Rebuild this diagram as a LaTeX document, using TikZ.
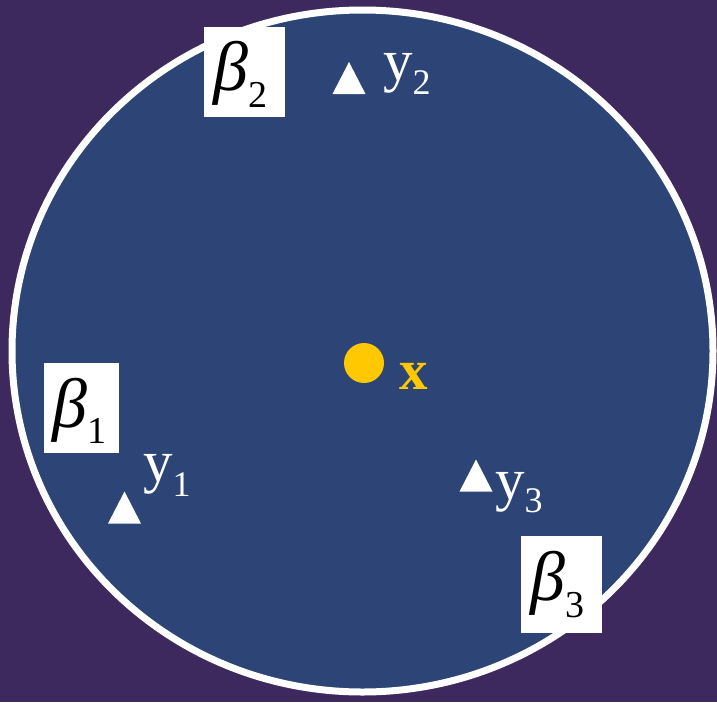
\documentclass[tikz,border=0pt]{standalone}
\usepackage{fontspec}
\setmainfont{Liberation Serif}
\definecolor{bgpurple}{RGB}{62,41,94}
\definecolor{diskblue}{RGB}{44,69,118}
\definecolor{dotyellow}{RGB}{255,200,0}
\tikzset{
  betabox/.style={fill=white, draw=none, inner sep=0pt},
  betatext/.style={anchor=base west, inner sep=0pt, text=black, font=\fontsize{70}{70}\selectfont},
  ylabel/.style={anchor=base west, inner sep=0pt, text=white, font=\fontsize{59}{59}\selectfont},
  tri/.pic={\fill[white] (-16.5,16) -- (16.5,16) -- (0,-16) -- cycle;}
}
\newcommand{\subsc}[2]{\raisebox{-#1pt}{\fontsize{36}{36}\selectfont #2}}
\newcommand{\bsubsc}[2]{\raisebox{-#1pt}{\fontsize{38}{38}\selectfont #2}}
\begin{document}
\begin{tikzpicture}[x=1pt,y=-1pt]
\fill[bgpurple] (0,0) rectangle (717,702);
\useasboundingbox (0,0) rectangle (717,702);
% disk
\draw[white, line width=7pt, fill=diskblue] (362.5,351) ellipse [x radius=350.5, y radius=341];
% point x
\node[circle, fill=dotyellow, minimum size=40pt, inner sep=0pt] (xdot) at (364,363) {};
\node[anchor=base west, inner sep=0pt, text=dotyellow, font=\fontsize{57}{57}\selectfont\bfseries] (xlab) at (399,389) {x};
% triangles
\pic (t2) at (349,78) {tri};
\pic (t1) at (124.5,507.5) {tri};
\pic (t3) at (476,475.5) {tri};
% y labels
\node[ylabel] (y2) at (383,80) {y\subsc{14}{2}};
\node[ylabel] (y1) at (143,481) {y\subsc{15}{1}};
\node[ylabel] (y3) at (495,499) {y\subsc{13}{3}};
% beta boxes
\node[betabox, minimum width=81pt, minimum height=90pt] (b2box) at (244.5,72) {};
\node[betatext] (b2) at (213,90) {\itshape β\upshape\bsubsc{17}{2}};
\node[betabox, minimum width=75pt, minimum height=90pt] (b1box) at (81.5,408) {};
\node[betatext] (b1) at (52,427) {\itshape β\upshape\bsubsc{16}{1}};
\node[betabox, minimum width=81pt, minimum height=97pt] (b3box) at (561.5,584.5) {};
\node[betatext] (b3) at (530,600) {\itshape β\upshape\bsubsc{17}{3}};
\end{tikzpicture}
\end{document}
